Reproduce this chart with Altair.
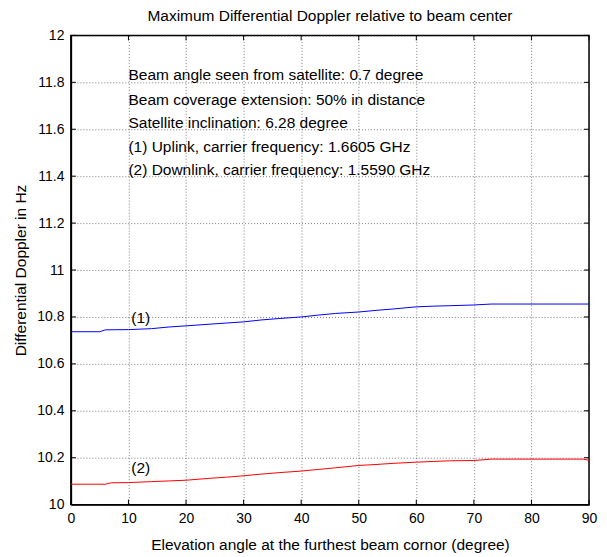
import altair as alt
import pandas as pd

# ---- data ----
x_up = [0, 5, 6, 10, 14, 17, 20, 24, 27, 30, 33, 36, 40, 43, 46, 50, 53, 56, 60, 63, 66, 70, 73, 90]
y_up = [10.737, 10.737, 10.745, 10.746, 10.750, 10.757, 10.762, 10.769, 10.774, 10.779, 10.787, 10.793,
        10.800, 10.808, 10.815, 10.821, 10.828, 10.834, 10.843, 10.846, 10.848, 10.851, 10.855, 10.855]
x_down = [0, 6, 7, 10, 14, 17, 20, 24, 27, 30, 33, 36, 40, 43, 46, 50, 53, 56, 60, 63, 66, 70, 73, 89, 90]
y_down = [10.087, 10.087, 10.093, 10.094, 10.098, 10.101, 10.104, 10.112, 10.117, 10.123, 10.130, 10.136,
          10.143, 10.150, 10.157, 10.167, 10.171, 10.176, 10.181, 10.184, 10.187, 10.188, 10.194, 10.194, 10.189]

x_ticks = [0, 10, 20, 30, 40, 50, 60, 70, 80, 90]
y_ticks = [10, 10.2, 10.4, 10.6, 10.8, 11, 11.2, 11.4, 11.6, 11.8, 12]

chart_title = ["Maximum Differential Doppler relative to beam center"]
note_lines = [
    "Beam angle seen from satellite: 0.7 degree",
    "Beam coverage extension: 50% in distance",
    "Satellite inclination: 6.28 degree",
    "(1) Uplink, carrier frequency: 1.6605 GHz",
    "(2) Downlink, carrier frequency: 1.5590 GHz",
]
note_x = [10.0] * 5
note_y = [11.83, 11.725, 11.625, 11.523, 11.425]
series_labels = ["(1)", "(2)"]
series_label_x = [10.5, 10.5]
series_label_y = [10.796, 10.157]

W, H = 519, 470
FONT = "Liberation Sans"
FS = 15.5

xs = alt.Scale(domain=[0, 90], nice=False, zero=False)
ys = alt.Scale(domain=[10, 12], nice=False, zero=False)

common = dict(labelFont=FONT, labelFontSize=14, labelColor="black", labelFlush=False,
              titleFont=FONT, titleFontSize=FS, titleFontWeight="normal", titleColor="black",
              domainColor="black", domainWidth=1.5, tickSize=0, grid=True,
              gridColor="#333333", gridDash=[1, 2], gridWidth=0.8, gridOpacity=0.8)

x_axis = alt.Axis(values=x_ticks, title="Elevation angle at the furthest beam cornor (degree)",
                  labelPadding=7, titlePadding=12, format="d", **common)
y_axis = alt.Axis(values=y_ticks, title="Differential Doppler in Hz",
                  labelPadding=7, titlePadding=8,
                  labelExpr="format(datum.value, '.1~f')", **common)

df_up = pd.DataFrame({"x": x_up, "y": y_up})
df_down = pd.DataFrame({"x": x_down, "y": y_down})

base_up = alt.Chart(df_up).mark_line(color="#0000ff", strokeWidth=1).encode(
    x=alt.X("x:Q", scale=xs, axis=x_axis),
    y=alt.Y("y:Q", scale=ys, axis=y_axis),
)
line_down = alt.Chart(df_down).mark_line(color="#ff0000", strokeWidth=1).encode(
    x=alt.X("x:Q", scale=xs), y=alt.Y("y:Q", scale=ys)
)

notes = alt.Chart(pd.DataFrame({"t": note_lines, "x": note_x, "y": note_y})).mark_text(
    align="left", baseline="middle", font=FONT, fontSize=FS, color="black"
).encode(x=alt.X("x:Q", scale=xs), y=alt.Y("y:Q", scale=ys), text="t:N")

slabels = alt.Chart(pd.DataFrame({"t": series_labels, "x": series_label_x, "y": series_label_y})).mark_text(
    align="left", baseline="middle", font=FONT, fontSize=FS, color="black"
).encode(x=alt.X("x:Q", scale=xs), y=alt.Y("y:Q", scale=ys), text="t:N")

title_mark = alt.Chart(pd.DataFrame({"t": chart_title})).mark_text(
    align="center", baseline="middle", font=FONT, fontSize=FS, color="black"
).encode(x=alt.value(W / 2), y=alt.value(-19), text="t:N")

# inward tick marks (MATLAB style) on all four sides
xt = pd.DataFrame({"x": x_ticks})
yt = pd.DataFrame({"y": y_ticks})
tick_b = alt.Chart(xt).mark_rule(color="black", strokeWidth=1).encode(
    x=alt.X("x:Q", scale=xs), y=alt.value(H), y2=alt.value(H - 5))
tick_t = alt.Chart(xt).mark_rule(color="black", strokeWidth=1).encode(
    x=alt.X("x:Q", scale=xs), y=alt.value(0), y2=alt.value(5))
tick_l = alt.Chart(yt).mark_rule(color="black", strokeWidth=1).encode(
    y=alt.Y("y:Q", scale=ys), x=alt.value(0), x2=alt.value(5))
tick_r = alt.Chart(yt).mark_rule(color="black", strokeWidth=1).encode(
    y=alt.Y("y:Q", scale=ys), x=alt.value(W), x2=alt.value(W - 5))

chart = alt.layer(base_up, line_down, notes, slabels, title_mark,
                  tick_b, tick_t, tick_l, tick_r).properties(
    width=W, height=H,
    background="white",
    padding={"left": 63, "top": 27, "right": 10, "bottom": 52},
    autosize=alt.AutoSizeParams(type="none"),
).configure_view(
    stroke="black", strokeWidth=1.5, clip=False
)

chart.save("out.html", embed_options={"renderer": "svg", "actions": False})
